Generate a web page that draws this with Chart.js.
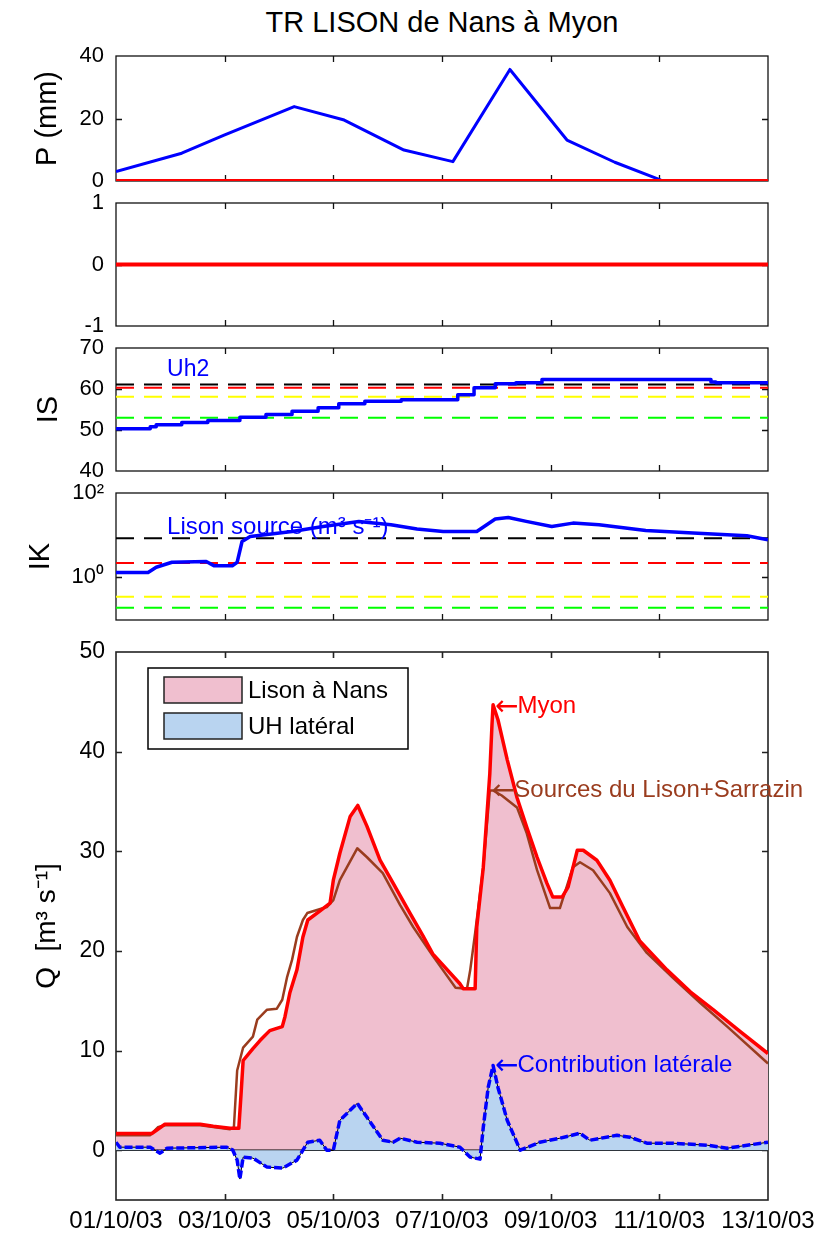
<!DOCTYPE html>
<html>
<head>
<meta charset="utf-8">
<script src="https://cdn.jsdelivr.net/npm/chart.js@4.4.0/dist/chart.umd.min.js"></script>
<style>
html,body{margin:0;padding:0;background:#fff;}
body{width:814px;height:1238px;position:relative;overflow:hidden;}
canvas{position:absolute;left:0;}
#title{position:absolute;left:116px;width:652px;top:8px;text-align:center;font-family:'Liberation Sans',Arial,sans-serif;font-size:29px;line-height:29px;color:#000;white-space:nowrap;}
</style>
</head>
<body>
<div id="title">TR LISON de Nans à Myon</div>
<canvas id="cP" width="814" height="165" style="top:36px"></canvas>
<canvas id="cZ" width="814" height="163" style="top:183px"></canvas>
<canvas id="cIS" width="814" height="163" style="top:328px"></canvas>
<canvas id="cIK" width="814" height="167" style="top:473px"></canvas>
<canvas id="cQ" width="814" height="606" style="top:632px"></canvas>
<script>
// ---------------- DATA (days since 01/10/03 00:00) ----------------
const X_MIN_DAY = 0;
const X_MAX_DAY = 12;
const X_TICK_DAYS = [0, 2, 4, 6, 8, 10, 12];
const X_TICK_LABELS = ['01/10/03', '03/10/03', '05/10/03', '07/10/03', '09/10/03', '11/10/03', '13/10/03'];

// Panel 1 : rainfall P (mm)
const P_DAYS   = [0, 1.21, 1.99, 3.28, 4.2, 5.3, 6.2, 7.25, 8.3, 9.18, 10.03];
const P_VALUES = [3.0, 8.9, 14.7, 23.8, 19.5, 9.9, 6.2, 35.7, 13.1, 6.0, 0.3];
const ZERO_DAYS = [0, 12];
const ZERO_VALUES = [0, 0];
const P_Y_TICKS = [0, 20, 40];

// Panel 2
const Z_Y_TICKS = [-1, 0, 1];

// Panel 3 : IS
const IS_DAYS   = [0, 0.63, 0.74, 1.21, 1.69, 2.28, 2.76, 3.24, 3.72, 4.1, 4.58, 5.25, 6.29, 6.59, 6.98, 7.36, 7.84, 8.26, 10.95, 11.04, 12];
const IS_VALUES = [50.3, 50.3, 50.8, 51.3, 51.8, 52.3, 53.1, 53.8, 54.6, 55.4, 56.4, 57.0, 57.4, 58.6, 60.3, 61.3, 61.5, 62.3, 62.3, 61.7, 61.5];
const IS_THRESHOLDS = [61.1, 60.3, 58.1, 53.0];
const IS_Y_TICKS = [40, 50, 60, 70];

// Panel 4 : IK (log)
const IK_DAYS   = [0, 0.59, 0.74, 1.03, 1.66, 1.81, 2.14, 2.23, 2.32, 2.47, 3.24, 3.81, 4.47, 5.06, 5.54, 6.02, 6.64, 6.98, 7.22, 7.55, 8.02, 8.41, 8.89, 9.75, 10.62, 11.61, 12];
const IK_VALUES = [1.25, 1.25, 1.67, 2.2, 2.3, 1.8, 1.8, 2.2, 6.9, 9.1, 12, 15.8, 20.9, 17.4, 13.7, 12, 12, 23.8, 26, 20.9, 15.8, 19, 17.4, 12.7, 11, 9.5, 7.6];
const IK_THRESHOLDS = [8.3, 2.1, 0.33, 0.18];
const IK_Y_TICKS = [1, 100];

// Panel 5 : discharge Q (m3/s)
const Q_MYON_DAYS = [0, 0.66, 0.90, 1.55, 1.79, 2.10, 2.26, 2.30, 2.34, 2.52, 2.65, 2.83, 3.06, 3.11, 3.20, 3.33, 3.44, 3.53, 3.75, 3.94, 4.00, 4.12, 4.31, 4.45, 4.62, 4.86, 5.10, 5.41, 5.65, 5.83, 6.33, 6.39, 6.61, 6.64, 6.76, 6.88, 6.92, 6.94, 7.03, 7.20, 7.38, 7.56, 7.75, 7.93, 8.04, 8.21, 8.32, 8.49, 8.60, 8.85, 9.09, 9.33, 9.64, 10.14, 10.57, 10.99, 11.49, 12];
const Q_MYON = [1.67, 1.67, 2.6, 2.6, 2.4, 2.2, 2.2, 5.5, 9.0, 10.2, 11.0, 12.0, 12.4, 13.4, 15.8, 18.1, 21.4, 23.1, 24.0, 24.8, 27.1, 29.8, 33.5, 34.6, 32.5, 29.1, 26.8, 23.8, 21.5, 19.7, 16.7, 16.2, 16.2, 22.4, 28.4, 37.8, 42.7, 44.7, 43.2, 39.2, 35.4, 32.4, 29.4, 26.8, 25.4, 25.4, 26.4, 30.1, 30.1, 29.1, 27.1, 24.4, 21.0, 18.1, 15.9, 14.1, 11.9, 9.7];
const Q_SRC_DAYS = [0, 0.63, 0.77, 0.90, 1.55, 2.10, 2.17, 2.23, 2.34, 2.52, 2.60, 2.78, 2.96, 3.06, 3.15, 3.24, 3.33, 3.44, 3.52, 3.88, 4.00, 4.12, 4.44, 4.62, 4.91, 5.23, 5.47, 5.83, 6.25, 6.46, 6.52, 6.61, 6.76, 6.88, 6.94, 7.10, 7.38, 7.56, 7.75, 7.99, 8.17, 8.41, 8.54, 8.78, 9.09, 9.41, 9.77, 10.25, 10.75, 11.25, 12];
const Q_SRC = [1.5, 1.5, 2.3, 2.5, 2.5, 2.1, 2.3, 8.0, 10.3, 11.4, 13.1, 14.1, 14.2, 15.1, 17.4, 19.1, 21.4, 23.1, 23.8, 24.4, 25.1, 27.1, 30.3, 29.4, 27.8, 24.6, 22.4, 19.5, 16.3, 16.2, 18.1, 21.8, 28.4, 36.1, 36.1, 35.6, 34.4, 31.8, 28.1, 24.3, 24.3, 28.4, 28.9, 28.1, 25.8, 22.4, 19.8, 17.3, 14.8, 12.4, 8.7];
const Q_LAT_DAYS = [0, 0.07, 0.63, 0.81, 0.94, 2.04, 2.15, 2.23, 2.28, 2.34, 2.52, 2.78, 3.07, 3.33, 3.44, 3.53, 3.75, 3.88, 4.00, 4.12, 4.44, 4.62, 4.91, 5.10, 5.23, 5.54, 5.96, 6.33, 6.52, 6.70, 6.76, 6.85, 6.94, 7.03, 7.20, 7.44, 7.80, 8.17, 8.54, 8.72, 9.22, 9.46, 9.77, 10.25, 10.88, 11.25, 12];
const Q_LAT = [0.8, 0.3, 0.3, -0.3, 0.2, 0.3, 0.0, -1.0, -2.9, -0.7, -0.8, -1.7, -1.8, -1.0, 0.0, 0.8, 1.0, 0.0, 0.0, 3.0, 4.7, 3.3, 1.0, 0.8, 1.2, 0.8, 0.7, 0.3, -0.7, -0.9, 2.3, 6.3, 8.5, 6.3, 3.0, 0.0, 0.8, 1.2, 1.7, 1.0, 1.5, 1.3, 0.7, 0.7, 0.5, 0.2, 0.8];
const Q_Y_TICKS = [0, 10, 20, 30, 40, 50];

// ---------------- helpers & plugins ----------------
const FONT = "'Liberation Sans', Arial, Helvetica, sans-serif";
const ARROW_FONT = "'DejaVu Sans', sans-serif";
Chart.defaults.font.family = FONT;
Chart.defaults.color = '#000';

function pts(days, vals) { return days.map((d, i) => ({x: d, y: vals[i]})); }
function argmax(arr) { let k = 0; arr.forEach((v, i) => { if (v > arr[k]) k = i; }); return k; }
const SUP = {'0':'\u2070','1':'\u00b9','2':'\u00b2','3':'\u00b3','-':'\u207b'};
function sup(s) { return String(s).split('').map(c => SUP[c] || c).join(''); }

const frameTicks = {
  id: 'frameTicks',
  beforeDatasetsDraw(chart, args, o) {
    const {ctx, chartArea: a, scales: {x, y}} = chart;
    ctx.save();
    ctx.strokeStyle = o.color;
    ctx.lineWidth = o.lineWidth;
    ctx.beginPath();
    X_TICK_DAYS.forEach(v => {
      const px = Math.round(x.getPixelForValue(v)) + 0.5;
      if (px <= a.left + 2 || px >= a.right - 2) return;
      ctx.moveTo(px, a.top); ctx.lineTo(px, a.top + o.len);
      ctx.moveTo(px, a.bottom); ctx.lineTo(px, a.bottom - o.len);
    });
    (o.yTicks || []).forEach(v => {
      const py = Math.round(y.getPixelForValue(v)) + 0.5;
      if (py <= a.top + 2 || py >= a.bottom - 2) return;
      ctx.moveTo(a.left, py); ctx.lineTo(a.left + o.len, py);
      ctx.moveTo(a.right, py); ctx.lineTo(a.right - o.len, py);
    });
    ctx.stroke();
    ctx.strokeRect(a.left, a.top, a.right - a.left, a.bottom - a.top);
    ctx.restore();
  }
};

// text annotations anchored on data values; optional leading arrow glyph
const annot = {
  id: 'annot',
  afterDatasetsDraw(chart, args, o) {
    const {ctx, scales: {x, y}} = chart;
    (o.items || []).forEach(it => {
      ctx.save();
      ctx.fillStyle = it.color;
      ctx.textAlign = 'left';
      ctx.textBaseline = 'middle';
      let px = x.getPixelForValue(it.x) + (it.dx || 0);
      const py = y.getPixelForValue(it.y) + (it.dy || 0);
      if (it.arrow) {
        ctx.font = '28px ' + ARROW_FONT;
        ctx.fillText('\u2190', px, py + 1);
        px += ctx.measureText('\u2190').width - 1;
      }
      ctx.font = it.size + 'px ' + FONT;
      ctx.fillText(it.text, px, py);
      ctx.restore();
    });
  }
};

const boxLegend = {
  id: 'boxLegend',
  afterDatasetsDraw(chart, args, o) {
    if (!o || !o.show) return;
    const {ctx, chartArea: a} = chart;
    const items = chart.data.datasets.filter(d => d.legendRank).sort((p, q) => p.legendRank - q.legendRank);
    const L = a.left + o.dx, T = a.top + o.dy;
    ctx.save();
    ctx.fillStyle = '#fff';
    ctx.fillRect(L, T, o.w, o.h);
    ctx.strokeStyle = '#000';
    ctx.lineWidth = 1.5;
    ctx.strokeRect(L, T, o.w, o.h);
    items.forEach((d, i) => {
      const bx = L + o.boxX, by = T + o.boxY + i * o.rowGap;
      ctx.fillStyle = d.backgroundColor;
      ctx.fillRect(bx, by, o.boxW, o.boxH);
      ctx.strokeStyle = '#222';
      ctx.lineWidth = 1.5;
      ctx.strokeRect(bx, by, o.boxW, o.boxH);
      ctx.fillStyle = '#000';
      ctx.font = o.size + 'px ' + FONT;
      ctx.textAlign = 'left';
      ctx.textBaseline = 'middle';
      ctx.fillText(d.label, bx + o.boxW + 6, by + o.boxH / 2 + 1);
    });
    ctx.restore();
  }
};

function makeChart(id, cfg) {
  const yScale = {
    type: cfg.yType || 'linear',
    min: cfg.yMin, max: cfg.yMax,
    afterBuildTicks: s => { s.ticks = cfg.yTicks.map(v => ({value: v})); },
    afterFit: s => { s.width = 116; s.paddingTop = 0; s.paddingBottom = 0; },
    grid: {display: false, drawTicks: false},
    border: {display: false},
    ticks: {font: {size: cfg.yTickSize}, padding: cfg.yTickPad, color: '#000', autoSkip: false,
             callback: cfg.yTickCb || (v => String(v))},
    title: {display: true, text: cfg.yTitle, color: '#000', font: {size: cfg.yTitleSize},
            padding: {top: cfg.yTitlePad, bottom: 0}}
  };
  const xScale = {
    type: 'linear', min: X_MIN_DAY, max: X_MAX_DAY,
    display: !!cfg.showX,
    afterBuildTicks: s => { s.ticks = X_TICK_DAYS.map(v => ({value: v})); },
    afterFit: s => { if (cfg.showX) s.height = cfg.xHeight; s.paddingLeft = 0; s.paddingRight = 0; },
    grid: {display: false, drawTicks: false},
    border: {display: false},
    ticks: {font: {size: 24}, padding: 7, color: '#000', maxRotation: 0, minRotation: 0, autoSkip: false,
            callback: v => { const k = X_TICK_DAYS.indexOf(v); return k >= 0 ? X_TICK_LABELS[k] : ''; }}
  };
  return new Chart(document.getElementById(id), {
    type: 'line',
    data: {datasets: cfg.datasets},
    options: {
      responsive: false, animation: false, devicePixelRatio: 1,
      layout: {padding: {top: 20, bottom: cfg.padBottom, left: 0, right: 46}},
      elements: {point: {radius: 0}, line: {tension: 0}},
      plugins: {
        legend: {display: false}, tooltip: {enabled: false},
        frameTicks: {color: cfg.frameColor || '#111', lineWidth: cfg.frameWidth || 1.3, len: 6, yTicks: cfg.yTicks},
        annot: {items: cfg.annots || []},
        boxLegend: cfg.legend || {show: false}
      },
      scales: {x: xScale, y: yScale}
    },
    plugins: [frameTicks, annot, boxLegend]
  });
}

function line(days, vals, color, width, extra) {
  return Object.assign({data: pts(days, vals), borderColor: color, borderWidth: width, fill: false,
                        pointRadius: 0, borderJoinStyle: 'round'}, extra || {});
}

const THRESH_COLORS = ['#000000', '#ff0000', '#ffff00', '#00ff00'];
const DASH = [18, 10];

// Panel 1 : P
makeChart('cP', {
  yMin: 0, yMax: 40, yTicks: P_Y_TICKS, yTickSize: 22, yTickPad: 12,
  yTitle: 'P (mm)', yTitleSize: 29, yTitlePad: 31, padBottom: 20,
  datasets: [
    line(ZERO_DAYS, ZERO_VALUES, '#ff0000', 4, {order: 1}),
    line(P_DAYS, P_VALUES, '#0000ff', 3, {order: 2})
  ]
});

// Panel 2
makeChart('cZ', {
  yMin: -1, yMax: 1, yTicks: Z_Y_TICKS, yTickSize: 22, yTickPad: 12,
  yTitle: '', yTitleSize: 29, yTitlePad: 31, padBottom: 20,
  datasets: [ line(ZERO_DAYS, ZERO_VALUES, '#ff0000', 4) ]
});

// Panel 3 : IS
makeChart('cIS', {
  yMin: 40, yMax: 70, yTicks: IS_Y_TICKS, yTickSize: 22, yTickPad: 12,
  yTitle: 'IS', yTitleSize: 29, yTitlePad: 32, padBottom: 20,
  datasets: [
    line(IS_DAYS, IS_VALUES, '#0000ff', 3.5, {order: 0, stepped: 'after'}),
    ...IS_THRESHOLDS.map((t, i) => line(ZERO_DAYS, ZERO_DAYS.map(() => t), THRESH_COLORS[i], 2, {borderDash: DASH, order: 1 + i}))
  ],
  annots: [{x: 0.94, y: 64.6, text: 'Uh2', color: '#0000ff', size: 23}]
});

// Panel 4 : IK
makeChart('cIK', {
  yType: 'logarithmic', yMin: 0.091, yMax: 100, yTicks: IK_Y_TICKS, yTickSize: 22, yTickPad: 12,
  yTickCb: v => '10' + sup(Math.round(Math.log10(v))),
  yTitle: 'IK', yTitleSize: 29, yTitlePad: 24, padBottom: 20,
  datasets: [
    line(IK_DAYS, IK_VALUES, '#0000ff', 3.5, {order: 0}),
    ...IK_THRESHOLDS.map((t, i) => line(ZERO_DAYS, ZERO_DAYS.map(() => t), THRESH_COLORS[i], 2, {borderDash: DASH, order: 1 + i}))
  ],
  annots: [{x: 0.94, y: 15.2, text: 'Lison source (m' + sup(3) + ' s' + sup('-1') + ')', color: '#0000ff', size: 24}]
});

// Panel 5 : Q
const iMyon = argmax(Q_MYON), iSrc = argmax(Q_SRC), iLat = argmax(Q_LAT);
makeChart('cQ', {
  yMin: -5, yMax: 50, yTicks: Q_Y_TICKS, yTickSize: 23, yTickPad: 11,
  yTitle: 'Q  [m' + sup(3) + ' s' + sup('-1') + ']', yTitleSize: 28, yTitlePad: 30,
  showX: true, xHeight: 38, padBottom: 0, frameColor: '#222', frameWidth: 1.6,
  datasets: [
    line(Q_LAT_DAYS, Q_LAT, '#0000ff', 3.5, {label: 'Contribution latérale', borderDash: [8, 3], order: 1}),
    line(Q_LAT_DAYS, Q_LAT, '#000000', 1, {label: 'UH latéral', legendRank: 2, fill: 'origin', backgroundColor: '#b9d4f0', order: 2}),
    line(ZERO_DAYS, ZERO_VALUES, '#000000', 1.5, {order: 3}),
    line(Q_MYON_DAYS, Q_MYON, '#ff0000', 3.5, {label: 'Myon', order: 4}),
    line(Q_SRC_DAYS, Q_SRC, '#9a3c1e', 2.5, {label: 'Sources du Lison+Sarrazin', order: 5}),
    line(Q_MYON_DAYS, Q_MYON, 'rgba(0,0,0,0)', 0.01, {label: 'Lison à Nans', legendRank: 1, fill: 'origin', backgroundColor: '#f0bfcf', order: 6})
  ],
  annots: [
    {x: Q_MYON_DAYS[iMyon], y: Q_MYON[iMyon], dx: 2, dy: 2, arrow: true, text: 'Myon', color: '#ff0000', size: 24},
    {x: Q_SRC_DAYS[iSrc], y: Q_SRC[iSrc], dx: 2, arrow: true, text: 'Sources du Lison+Sarrazin', color: '#9a3c1e', size: 24},
    {x: Q_LAT_DAYS[iLat], y: Q_LAT[iLat], dx: 2, arrow: true, text: 'Contribution latérale', color: '#0000ff', size: 24}
  ],
  legend: {show: true, dx: 32, dy: 16, w: 260, h: 81, boxX: 16, boxY: 9, boxW: 78, boxH: 26, rowGap: 36, size: 24}
});
</script>
</body>
</html>
